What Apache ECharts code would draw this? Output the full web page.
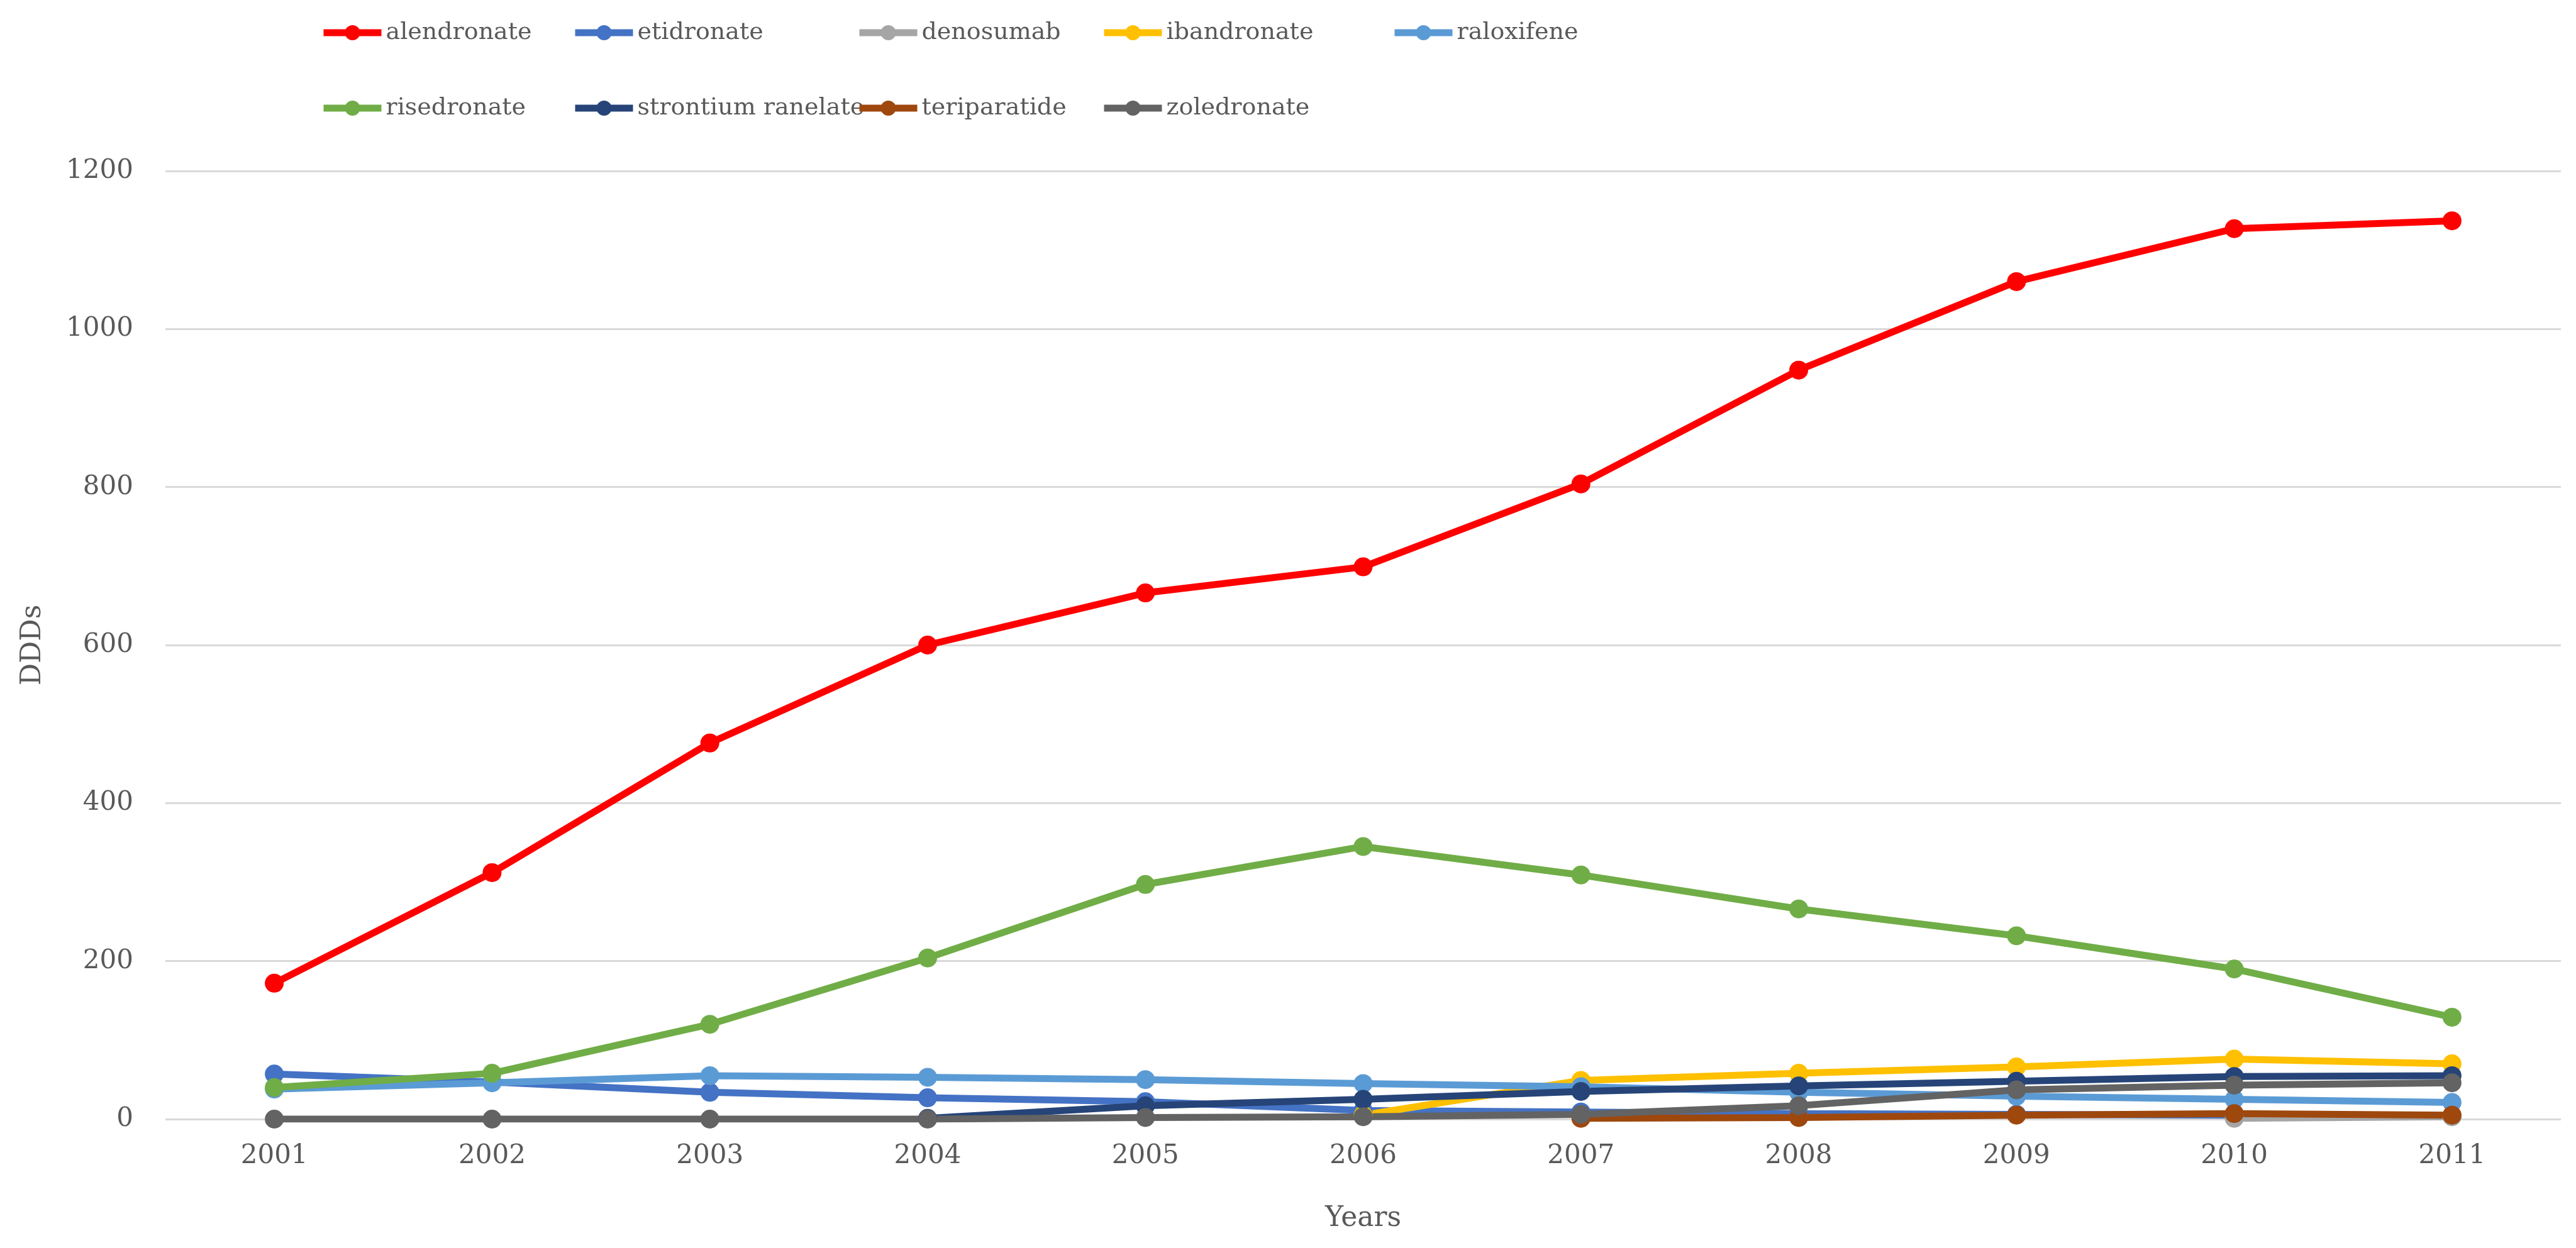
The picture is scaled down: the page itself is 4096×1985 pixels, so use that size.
<!DOCTYPE html>
<html>
<head>
<meta charset="utf-8">
<script src="https://cdn.jsdelivr.net/npm/echarts@6/dist/echarts.min.js"></script>
<style>html,body{margin:0;padding:0;background:#fff;}#chart{width:4096px;height:1985px;}</style>
</head>
<body>
<div id="chart"></div>
<script>
const years = ['2001','2002','2003','2004','2005','2006','2007','2008','2009','2010','2011'];
const alendronate = [172, 312, 476, 600, 666, 699, 804, 948, 1060, 1127, 1137];
const etidronate = [57, 47, 34, 27, 22, 11, 9, 7, 6, 5, 4];
const denosumab = [null, null, null, null, null, null, null, null, null, 1, 3];
const ibandronate = [null, null, null, null, null, 5, 49, 58, 66, 76, 70];
const raloxifene = [38, 46, 55, 53, 50, 45, 41, 34, 29, 25, 21];
const risedronate = [40, 58, 120, 204, 297, 345, 309, 266, 232, 190, 129];
const strontium = [null, null, null, 1, 17, 25, 35, 42, 48, 54, 55];
const teriparatide = [null, null, null, null, null, null, 1, 2, 5, 7, 5];
const zoledronate = [0, 0, 0, 0, 2, 3, 6, 17, 37, 43, 46];
const yTicks = {min: 0, max: 1200, interval: 200};

const seriesDefs = [
  ['alendronate', alendronate, '#FF0000'],
  ['etidronate', etidronate, '#4472C4'],
  ['denosumab', denosumab, '#A5A5A5'],
  ['ibandronate', ibandronate, '#FFC000'],
  ['raloxifene', raloxifene, '#5B9BD5'],
  ['risedronate', risedronate, '#70AD47'],
  ['strontium ranelate', strontium, '#264478'],
  ['teriparatide', teriparatide, '#9E480E'],
  ['zoledronate', zoledronate, '#636363']
];

const FONT = 'DejaVu Serif';
const series = seriesDefs.map(([name, data, color]) => ({
  name, type: 'line', data,
  symbol: 'circle', symbolSize: 30,
  lineStyle: {width: 11, color},
  itemStyle: {color},
  emphasis: {disabled: true},
  animation: false
}));

const legendCols = [
  {left: 504, names: ['alendronate', 'risedronate']},
  {left: 904, names: ['etidronate', 'strontium ranelate']},
  {left: 1356, names: ['denosumab', 'teriparatide']},
  {left: 1745, names: ['ibandronate', 'zoledronate']},
  {left: 2207, names: ['raloxifene']}
];
const legends = legendCols.map(c => ({
  orient: 'vertical', left: c.left, top: 28,
  itemWidth: 92, itemHeight: 30, itemGap: 82,
  data: c.names,
  selectedMode: false,
  lineStyle: {width: 11},
  textStyle: {fontFamily: FONT, fontSize: 38, color: '#595959', padding: [0, 0, 0, 2]}
}));

const chart = echarts.init(document.getElementById('chart'));
chart.setOption({
  backgroundColor: '#ffffff',
  animation: false,
  legend: legends,
  grid: {left: 263, right: 24, top: 272, bottom: 205},
  xAxis: {
    type: 'category', data: years, boundaryGap: true,
    name: 'Years', nameLocation: 'middle', nameGap: 137,
    nameTextStyle: {fontFamily: FONT, fontSize: 44, color: '#595959'},
    axisLine: {show: false}, axisTick: {show: false},
    axisLabel: {fontFamily: FONT, fontSize: 42, color: '#595959', margin: 38}
  },
  yAxis: {
    type: 'value', min: yTicks.min, max: yTicks.max, interval: yTicks.interval,
    name: 'DDDs', nameLocation: 'middle', nameGap: 188, nameRotate: 90,
    nameTextStyle: {fontFamily: FONT, fontSize: 44, color: '#595959'},
    axisLine: {show: false}, axisTick: {show: false},
    axisLabel: {fontFamily: FONT, fontSize: 42, color: '#595959', margin: 51,
      formatter: v => String(v)},
    splitLine: {lineStyle: {color: '#D9D9D9', width: 3}}
  },
  series
});
</script>
</body>
</html>
